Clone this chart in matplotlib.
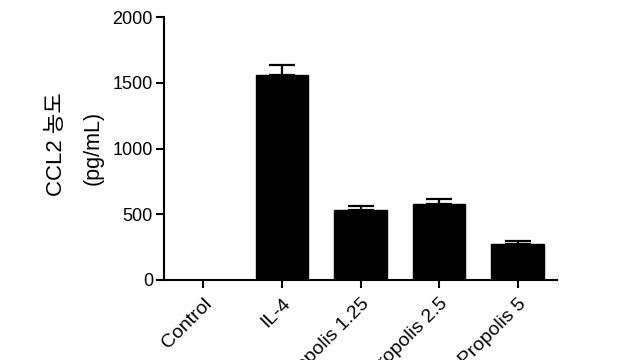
import matplotlib
matplotlib.use("Agg")
import matplotlib.pyplot as plt

categories = ["Control", "IL-4", "Propolis 1.25", "Propolis 2.5", "Propolis 5"]
values = [0, 1560, 532, 580, 276]
errors = [0, 75, 31, 36, 23]
yticks = [0, 500, 1000, 1500, 2000]

plt.rcParams['font.family'] = ['Liberation Sans', 'Noto Sans CJK KR', 'DejaVu Sans']

fig = plt.figure(figsize=(6.4, 3.6), dpi=100)
ax = fig.add_axes([164/640, 1-280/360, (557-164)/640, (280-17)/360])

x = list(range(len(categories)))
ax.bar(x, values, width=0.67, color='black', edgecolor='black', zorder=2)
ex = [xi for xi, e in zip(x, errors) if e > 0]
ev = [v for v, e in zip(values, errors) if e > 0]
ee = [e for e in errors if e > 0]
ax.errorbar(ex, ev, yerr=[[0]*len(ee), ee], fmt='none', ecolor='black',
            elinewidth=1.6, capsize=9.5, capthick=1.6, zorder=1)

ax.set_xlim(-0.5, 4.5)
ax.set_ylim(0, 2000)
ax.set_yticks(yticks)
ax.set_yticklabels([str(v) for v in yticks], fontsize=13)
ax.set_xticks(x)
ax.set_xticklabels(categories, fontsize=14, rotation=45, ha='right', va='top',
                   rotation_mode='anchor')

for s in ['top', 'right']:
    ax.spines[s].set_visible(False)
for s in ['left', 'bottom']:
    ax.spines[s].set_linewidth(1.5)
ax.tick_params(axis='y', length=6, width=1.5, pad=2)
ax.tick_params(axis='x', length=6, width=1.5, pad=5)

fig.text(56/640, 1-144/360, "CCL2 농도", rotation=90, ha='center', va='center', fontsize=16)
fig.text(93/640, 1-148/360, "(pg/mL)", rotation=90, ha='center', va='center', fontsize=15.5)

fig.savefig("out.png", dpi=100)
